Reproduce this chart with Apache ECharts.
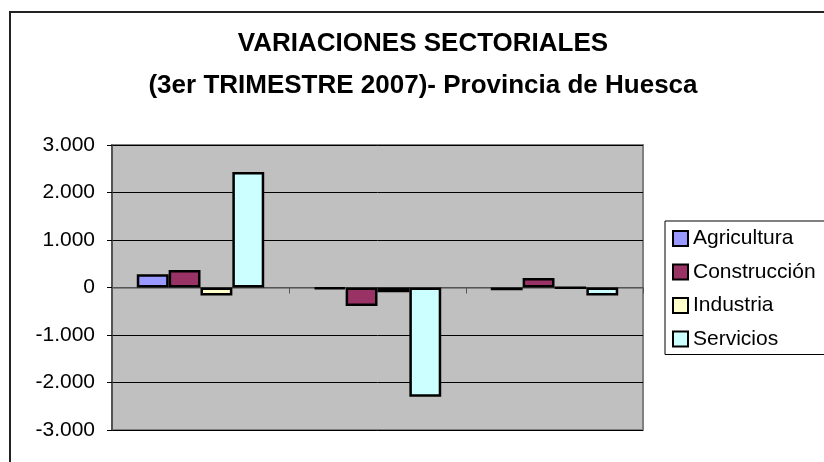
<!DOCTYPE html>
<html>
<head>
<meta charset="utf-8">
<script src="https://cdn.jsdelivr.net/npm/echarts@6/dist/echarts.min.js"></script>
<style>html,body{margin:0;padding:0;background:#fff}#c{width:824px;height:462px}</style>
</head>
<body>
<div id="c"></div>
<script>
var categories = ['Tipo 1', 'Tipo 2', 'Tipo 3'];
var agricultura = [280, -30, -60];
var construccion = [370, -390, 200];
var industria = [-170, -100, -10];
var servicios = [2430, -2300, -170];
var seriesNames = ['Agricultura', 'Construcción', 'Industria', 'Servicios'];
var seriesColors = ['#9999FF', '#993366', '#FFFFCC', '#CCFFFF'];
var seriesData = [agricultura, construccion, industria, servicios];

var font = "'Liberation Sans', Arial, sans-serif";
var chart = echarts.init(document.getElementById('c'), null, {renderer: 'canvas'});
chart.setOption({
  backgroundColor: '#ffffff',
  animation: false,
  graphic: [{
    type: 'rect', shape: {x: 10, y: 12, width: 830, height: 470},
    style: {fill: 'none', stroke: '#222', lineWidth: 2}, z: -1
  }],
  title: {
    text: 'VARIACIONES SECTORIALES\n(3er TRIMESTRE 2007)- Provincia de Huesca',
    left: 418, top: 18, textAlign: 'center',
    textStyle: {fontFamily: font, fontSize: 26, fontWeight: 'bold', color: '#000', lineHeight: 42}
  },
  legend: {
    orient: 'vertical', left: 665, top: 221,
    padding: [7, 30, 5, 7], itemGap: 12.5, itemWidth: 15, itemHeight: 15,
    borderColor: '#000', borderWidth: 1, backgroundColor: '#fff',
    icon: 'rect',
    itemStyle: {borderColor: '#000', borderWidth: 2},
    textStyle: {fontFamily: font, fontSize: 21, color: '#000'},
    data: seriesNames
  },
  grid: {
    left: 112, top: 145, right: 181, bottom: 32,
    show: true, backgroundColor: '#C0C0C0', borderColor: '#808080', borderWidth: 2
  },
  xAxis: {
    type: 'category', data: categories,
    axisLabel: {show: false},
    axisLine: {onZero: true, lineStyle: {color: '#707070', width: 1.5}},
    axisTick: {show: true, length: 6, interval: 0, lineStyle: {color: '#555'}},
    splitLine: {show: false}
  },
  yAxis: {
    type: 'value', min: -3000, max: 3000, interval: 1000,
    axisLine: {show: true, lineStyle: {color: '#444', width: 1.5}},
    axisTick: {show: true, length: 5, lineStyle: {color: '#000'}},
    splitLine: {show: true, lineStyle: {color: '#000', width: 1}},
    axisLabel: {
      margin: 17, fontFamily: font, fontSize: 21, color: '#000',
      formatter: function (v) {
        var s = Math.abs(v).toString().replace(/\B(?=(\d{3})+(?!\d))/g, '.');
        return (v < 0 ? '-' : '') + s;
      }
    }
  },
  series: seriesNames.map(function (n, i) {
    return {
      name: n, type: 'bar', data: seriesData[i],
      barGap: '0%', barCategoryGap: '28%',
      itemStyle: {color: seriesColors[i], borderColor: '#000', borderWidth: 2.5}
    };
  })
});
</script>
</body>
</html>
